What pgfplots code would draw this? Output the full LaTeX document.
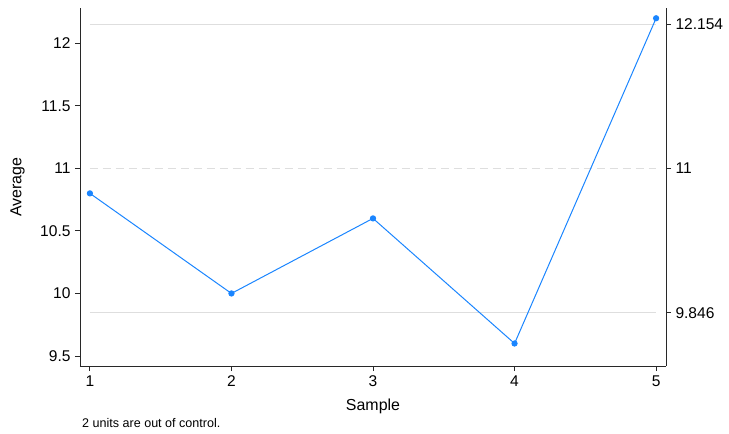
\documentclass[border=0pt]{standalone}
\usepackage{pgfplots}
\pgfplotsset{compat=1.18}
\usepackage{fontspec}
\setmainfont{Liberation Sans}
\definecolor{sblue}{RGB}{26,133,255}
\definecolor{cgray}{RGB}{222,222,222}
\definecolor{axgray}{RGB}{40,40,40}
\begin{document}
\begin{tikzpicture}
\path[use as bounding box] (-80bp,-68bp) rectangle (649bp,366bp);
\pgfplotsset{
  common/.style={
    at={(0,0)}, anchor=south west,
    width=586bp, height=358bp, scale only axis,
    xmin=0.93, xmax=5.07, ymin=9.42, ymax=12.282,
    axis line style={draw=axgray, line width=0.9bp, -},
    tick style={draw=axgray, line width=0.9bp},
    major tick length=5bp,
    tick align=outside,
    ticklabel style={font=\fontsize{15.6}{17}\selectfont, text=black},
    clip=false,
  }
}
\begin{axis}[common,
  axis x line*=bottom, axis y line*=left,
  xtick={1,2,3,4,5}, xticklabels={1,2,3,4,5},
  ytick={9.5,10,10.5,11,11.5,12}, yticklabels={9.5,10,10.5,11,11.5,12},
  xlabel={Sample}, ylabel={Average},
  label style={font=\fontsize{16}{18}\selectfont},
  xlabel style={at={(axis description cs:0.5,-0.1117)}, anchor=center},
  ylabel style={at={(axis description cs:-0.1067,0.5)}, anchor=center},
  yticklabel style={xshift=-1bp},
  xticklabel style={yshift=-1bp},
]
\addplot[cgray, line width=1bp, forget plot] coordinates {(1,12.154) (5,12.154)};
\addplot[cgray, line width=1bp, dash pattern=on 8bp off 5bp, forget plot] coordinates {(1,11) (5,11)};
\addplot[cgray, line width=1bp, forget plot] coordinates {(1,9.846) (5,9.846)};
\addplot[sblue, line width=1bp, mark=*, mark size=2.6bp, mark options={fill=sblue, draw=sblue}]
  coordinates {(1,10.8) (2,10.0) (3,10.6) (4,9.6) (5,12.2)};
\end{axis}
\begin{axis}[common,
  axis x line=none, axis y line*=right,
  ytick={9.846,11,12.154}, yticklabels={9.846,11,12.154},
  yticklabel style={xshift=1bp},
]
\end{axis}
\node[anchor=base west, font=\fontsize{12.6}{14}\selectfont, inner sep=0pt] at (2bp,-61bp) {2 units are out of control.};
\end{tikzpicture}
\end{document}
